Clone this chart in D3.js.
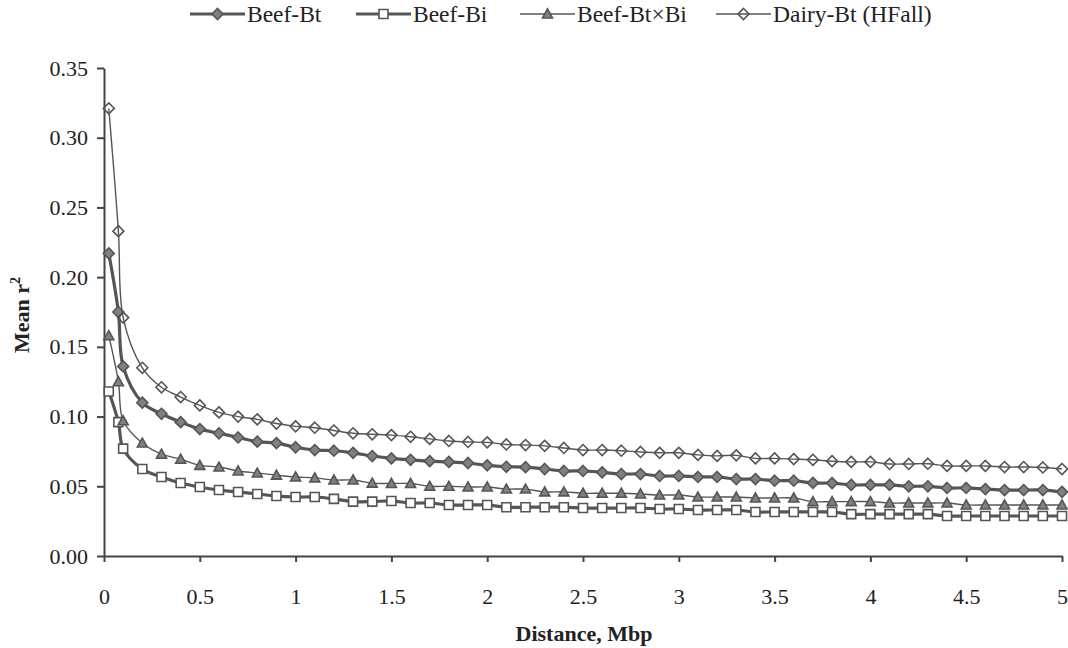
<!DOCTYPE html>
<html><head><meta charset="utf-8">
<script src="https://cdn.jsdelivr.net/npm/d3@7"></script>
<style>
html,body{margin:0;padding:0;background:#fff;}
svg{display:block;}
</style></head>
<body>
<svg id="chart" width="1068" height="648" font-family="Liberation Serif, Times New Roman, serif"></svg>
<script>
const distances = [0.025,0.075,0.1,0.2,0.3,0.4,0.5,0.6,0.7,0.8,0.9,1.0,1.1,1.2,1.3,1.4,1.5,1.6,1.7,1.8,1.9,2.0,2.1,2.2,2.3,2.4,2.5,2.6,2.7,2.8,2.9,3.0,3.1,3.2,3.3,3.4,3.5,3.6,3.7,3.8,3.9,4.0,4.1,4.2,4.3,4.4,4.5,4.6,4.7,4.8,4.9,5.0];
const beefBt = [0.217,0.175,0.136,0.110,0.102,0.096,0.091,0.088,0.085,0.082,0.081,0.078,0.076,0.0755,0.074,0.0717,0.070,0.069,0.068,0.0675,0.0667,0.065,0.064,0.0637,0.0624,0.061,0.061,0.060,0.0588,0.0588,0.0574,0.0574,0.0567,0.0567,0.0552,0.0552,0.054,0.054,0.0524,0.0523,0.051,0.051,0.051,0.050,0.050,0.0488,0.0488,0.048,0.0473,0.0473,0.0473,0.046];
const beefBi = [0.118,0.096,0.077,0.0624,0.0567,0.0524,0.0495,0.0473,0.0459,0.0445,0.043,0.0423,0.0423,0.041,0.039,0.039,0.0395,0.038,0.038,0.0366,0.0366,0.0366,0.035,0.035,0.035,0.035,0.0344,0.0344,0.0344,0.0344,0.0337,0.0337,0.033,0.033,0.033,0.0316,0.0316,0.0316,0.0316,0.0316,0.030,0.030,0.030,0.030,0.030,0.0287,0.0287,0.0287,0.0287,0.0287,0.0287,0.0287];
const beefBtBi = [0.158,0.125,0.097,0.081,0.073,0.0695,0.065,0.0638,0.061,0.0595,0.058,0.0567,0.056,0.0545,0.0545,0.0523,0.052,0.052,0.050,0.050,0.0495,0.0495,0.048,0.048,0.046,0.046,0.045,0.045,0.045,0.0445,0.0437,0.0437,0.0423,0.0423,0.0423,0.0416,0.0416,0.0416,0.039,0.039,0.039,0.039,0.038,0.038,0.038,0.038,0.0366,0.0366,0.0366,0.0366,0.0366,0.0366];
const dairyBt = [0.321,0.233,0.171,0.135,0.121,0.114,0.108,0.103,0.100,0.098,0.095,0.093,0.092,0.090,0.088,0.0873,0.0867,0.0855,0.084,0.0825,0.0818,0.0815,0.080,0.0796,0.079,0.0775,0.076,0.076,0.0755,0.0746,0.074,0.074,0.0725,0.0718,0.0722,0.070,0.070,0.0695,0.069,0.068,0.0675,0.0675,0.066,0.066,0.0662,0.0646,0.0646,0.0646,0.0638,0.0638,0.0635,0.0624];

const seriesNames = ["Beef-Bt","Beef-Bi","Beef-Bt\u00d7Bi","Dairy-Bt (HFall)"];
const xTickValues = [0,0.5,1,1.5,2,2.5,3,3.5,4,4.5,5];
const xTickLabels = ["0","0.5","1","1.5","2","2.5","3","3.5","4","4.5","5"];
const yTickValues = [0,0.05,0.10,0.15,0.20,0.25,0.30,0.35];
const yTickLabels = ["0.00","0.05","0.10","0.15","0.20","0.25","0.30","0.35"];

const FONT = "Liberation Serif, Times New Roman, serif";
const LINE = "#555";
const GREY = "#808080";
const styles = [
  {values: beefBt,   width: 3.2, shape: "diamond", fill: GREY, size: 11},
  {values: beefBi,   width: 3.2, shape: "square",  fill: "#fff", size: 9},
  {values: beefBtBi, width: 1.4, shape: "triangle",fill: GREY, size: 10},
  {values: dairyBt,  width: 1.4, shape: "diamond", fill: "none", size: 11}
];

const svg = d3.select("#chart");
const x = d3.scaleLinear().domain([0,5]).range([104,1062]);
const y = d3.scaleLinear().domain([0,0.35]).range([556,68]);

const xAxis = d3.axisBottom(x).tickValues(xTickValues).tickFormat((d,i)=>xTickLabels[i]).tickSize(6).tickSizeOuter(0).tickPadding(26);
const yAxis = d3.axisLeft(y).tickValues(yTickValues).tickFormat((d,i)=>yTickLabels[i]).tickSize(7).tickSizeOuter(0).tickPadding(9);

const gx = svg.append("g").attr("transform","translate(0,556)").call(xAxis);
const gy = svg.append("g").attr("transform","translate(104,0)").call(yAxis);
[gx,gy].forEach(g=>{
  g.attr("font-family", FONT).attr("font-size", 22);
  g.selectAll("path.domain").attr("stroke","#444").attr("stroke-width",2);
  g.selectAll(".tick line").attr("stroke","#444").attr("stroke-width",2);
  g.selectAll(".tick text").attr("fill","#222");
});

function markerPath(shape, s){
  const h = s/2;
  if(shape==="diamond") return `M0,${-h}L${h},0L0,${h}L${-h},0Z`;
  if(shape==="square") return `M${-h},${-h}H${h}V${h}H${-h}Z`;
  if(shape==="triangle") return `M0,${-h}L${h},${h*0.8}L${-h},${h*0.8}Z`;
}

const line = d3.line().x(d=>x(d[0])).y(d=>y(d[1])).curve(d3.curveCatmullRom.alpha(0.5));

styles.forEach((st,i)=>{
  const pts = distances.map((d,j)=>[d, st.values[j]]);
  const g = svg.append("g");
  g.append("path").attr("d", line(pts)).attr("fill","none").attr("stroke",LINE).attr("stroke-width",st.width);
  g.selectAll("path.m").data(pts).enter().append("path")
    .attr("class","m")
    .attr("transform",d=>`translate(${x(d[0])},${y(d[1])})`)
    .attr("d", markerPath(st.shape, st.size))
    .attr("fill", st.fill)
    .attr("stroke", LINE).attr("stroke-width", 1.6);
});

// legend
const legendX = [190, 356, 520, 716];
const lg = svg.append("g").attr("font-family", FONT);
styles.forEach((st,i)=>{
  const g = lg.append("g").attr("transform",`translate(${legendX[i]},14)`);
  g.append("line").attr("x1",0).attr("x2",55).attr("y1",0).attr("y2",0).attr("stroke",LINE).attr("stroke-width",st.width);
  g.append("path").attr("transform","translate(27.5,0)").attr("d",markerPath(st.shape, st.size)).attr("fill",st.fill).attr("stroke",LINE).attr("stroke-width",1.6);
  g.append("text").attr("x",57).attr("y",8).attr("font-size",23.5).attr("fill","#222").text(seriesNames[i]);
});

// axis titles
svg.append("text").attr("x",584).attr("y",641).attr("text-anchor","middle")
  .attr("font-family", FONT).attr("font-size",22).attr("font-weight","bold").attr("fill","#222").text("Distance, Mbp");
const yt = svg.append("text").attr("transform","translate(29,315) rotate(-90)").attr("text-anchor","middle")
  .attr("font-family", FONT).attr("font-size",22).attr("font-weight","bold").attr("fill","#222");
yt.append("tspan").text("Mean r");
yt.append("tspan").attr("dy",-9).attr("font-size",14).text("2");
</script>
</body></html>
